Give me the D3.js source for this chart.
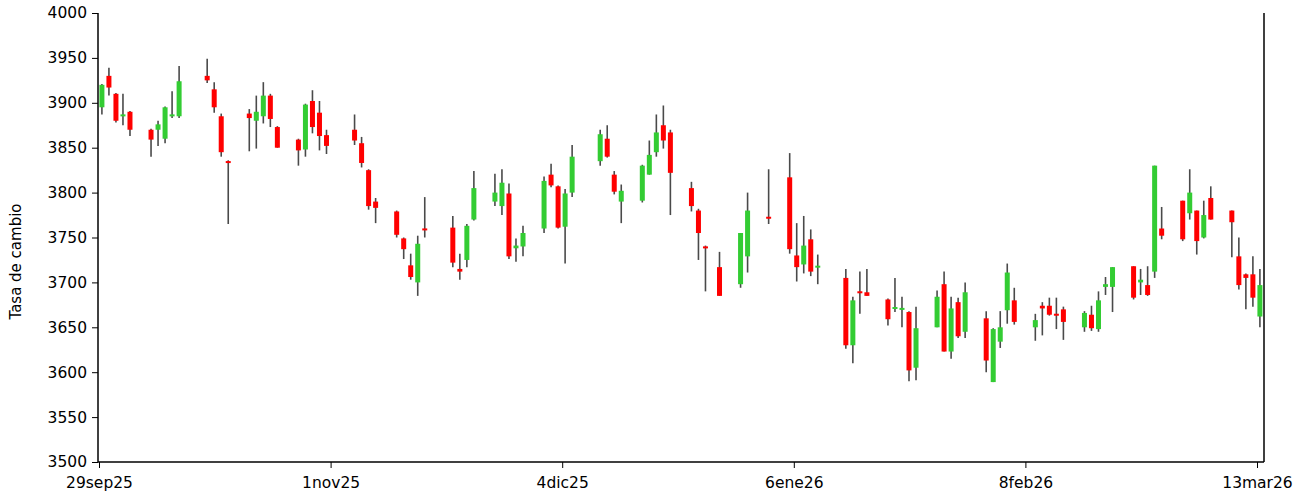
<!DOCTYPE html>
<html>
<head>
<meta charset="utf-8">
<script src="https://cdn.jsdelivr.net/npm/d3@7"></script>
<style>
html,body{margin:0;padding:0;background:#fff;}
svg{display:block;font-family:"DejaVu Sans",Verdana,sans-serif;}
</style>
</head>
<body>
<svg id="chart" width="1311" height="501"></svg>
<script>
const dates = ["2025-09-29","2025-09-30","2025-10-01","2025-10-02","2025-10-03","2025-10-06","2025-10-07","2025-10-08","2025-10-09","2025-10-10",
"2025-10-14","2025-10-15","2025-10-16","2025-10-17","2025-10-20","2025-10-21","2025-10-22","2025-10-23","2025-10-24","2025-10-27",
"2025-10-28","2025-10-29","2025-10-30","2025-10-31","2025-11-04","2025-11-05","2025-11-06","2025-11-07","2025-11-10","2025-11-11",
"2025-11-12","2025-11-13","2025-11-14","2025-11-18","2025-11-19","2025-11-20","2025-11-21","2025-11-24","2025-11-25","2025-11-26",
"2025-11-27","2025-11-28","2025-12-01","2025-12-02","2025-12-03","2025-12-04","2025-12-05","2025-12-09","2025-12-10","2025-12-11",
"2025-12-12","2025-12-15","2025-12-16","2025-12-17","2025-12-18","2025-12-19","2025-12-22","2025-12-23","2025-12-24","2025-12-26",
"2025-12-29","2025-12-30","2026-01-02","2026-01-05","2026-01-06","2026-01-07","2026-01-08","2026-01-09","2026-01-13","2026-01-14",
"2026-01-15","2026-01-16","2026-01-19","2026-01-20","2026-01-21","2026-01-22","2026-01-23","2026-01-26","2026-01-27","2026-01-28",
"2026-01-29","2026-01-30","2026-02-02","2026-02-03","2026-02-04","2026-02-05","2026-02-06","2026-02-09","2026-02-10","2026-02-11",
"2026-02-12","2026-02-13","2026-02-16","2026-02-17","2026-02-18","2026-02-19","2026-02-20","2026-02-23","2026-02-24","2026-02-25",
"2026-02-26","2026-02-27","2026-03-02","2026-03-03","2026-03-04","2026-03-05","2026-03-06","2026-03-09","2026-03-10","2026-03-11",
"2026-03-12","2026-03-13"];

const openV = [3895,3930,3910,3885,3890,3870,3870,3860,3885,3885,
3930,3915,3885,3835,3888,3880,3885,3908,3873,3859,
3848,3902,3889,3864,3870,3855,3825,3790,3779,3749,
3719,3700,3760,3761,3715,3725,3770,3790,3785,3799,
3738,3740,3760,3820,3807,3762,3800,3835,3860,3820,
3790,3791,3820,3845,3875,3867,3805,3780,3740,3717,
3698,3729,3773,3817,3730,3720,3748,3717,3705,3630,
3690,3689,3681,3671,3670,3667,3605,3650,3698,3623,
3678,3645,3660,3589,3634,3669,3680,3650,3674,3674,
3665,3670,3650,3664,3648,3695,3695,3718,3700,3697,
3712,3760,3791,3777,3780,3750,3794,3780,3729,3709,
3709,3662];

const highV = [3921,3939,3911,3910,3891,3871,3880,3896,3913,3941,
3949,3923,3888,3836,3893,3908,3923,3910,3874,3860,
3899,3914,3902,3870,3887,3862,3826,3794,3780,3750,
3732,3752,3795,3774,3732,3765,3824,3821,3826,3810,
3749,3763,3818,3832,3808,3804,3853,3870,3875,3824,
3809,3831,3858,3887,3897,3870,3812,3782,3741,3734,
3755,3800,3826,3844,3766,3774,3759,3731,3715,3684,
3712,3715,3682,3705,3684,3668,3673,3691,3712,3684,
3683,3700,3668,3649,3668,3721,3694,3665,3678,3683,
3683,3673,3668,3674,3690,3706,3717,3718,3715,3718,
3830,3784,3791,3826,3780,3791,3807,3780,3750,3710,
3729,3715];

const lowV = [3887,3908,3878,3875,3863,3840,3852,3855,3883,3883,
3922,3889,3840,3765,3846,3849,3877,3873,3850,3830,
3840,3866,3847,3843,3853,3828,3781,3766,3750,3726,
3703,3685,3750,3717,3703,3717,3769,3785,3775,3726,
3723,3729,3755,3806,3760,3721,3795,3830,3839,3798,
3766,3789,3820,3840,3849,3775,3779,3725,3690,3685,
3694,3711,3765,3732,3701,3710,3707,3698,3626,3610,
3665,3685,3652,3667,3650,3590,3591,3650,3623,3615,
3638,3638,3600,3589,3627,3654,3653,3635,3641,3663,
3648,3636,3645,3646,3645,3686,3667,3681,3686,3685,
3705,3748,3746,3770,3731,3749,3770,3728,3692,3670,
3673,3650];

const closeV = [3920,3917,3880,3887,3870,3859,3876,3895,3887,3924,
3925,3895,3845,3833,3883,3890,3908,3882,3850,3847,
3898,3873,3863,3852,3858,3833,3785,3783,3753,3737,
3706,3743,3758,3722,3712,3763,3805,3800,3811,3729,
3741,3755,3813,3808,3761,3799,3840,3865,3840,3801,
3802,3830,3842,3867,3858,3822,3785,3755,3738,3685,
3755,3780,3771,3737,3717,3741,3712,3718,3630,3680,
3688,3685,3659,3672,3671,3602,3649,3684,3623,3671,
3640,3689,3613,3648,3650,3711,3656,3658,3671,3664,
3663,3656,3666,3649,3680,3698,3717,3683,3703,3686,
3830,3752,3748,3800,3746,3775,3770,3767,3697,3705,
3683,3697];

const tickDates = ["2025-09-29","2025-11-01","2025-12-04","2026-01-06","2026-02-08","2026-03-13"];
const tickLabels = ["29sep25","1nov25","4dic25","6ene26","8feb26","13mar26"];
const yTicks = [3500,3550,3600,3650,3700,3750,3800,3850,3900,3950,4000];
const yTitle = "Tasa de cambio";

const parse = d3.utcParse("%Y-%m-%d");
const data = dates.map((d,i)=>({date:parse(d),o:openV[i],h:highV[i],l:lowV[i],c:closeV[i]}));

const svg = d3.select("#chart");
const axisLeftX = 98, axisRightX = 1264, yTop = 13, yBottom = 462;
const font = "DejaVu Sans, Verdana, sans-serif";

const x = d3.scaleUtc()
  .domain([parse("2025-09-29"), parse("2026-03-13")])
  .range([99, 1257]);
// candles sit at mid-day of their date
const cx = d => x(d3.utcHour.offset(d, 12)) - 0.6;
const y = d3.scaleLinear().domain([3500,4000]).range([yBottom, yTop]);

const green = "#33cc33", red = "#ff0000", wick = "#4a4a4a";
const bw = 5;

const g = svg.append("g");
g.selectAll("line.wick").data(data).enter().append("line")
  .attr("x1", d=>cx(d.date)).attr("x2", d=>cx(d.date))
  .attr("y1", d=>y(d.h)).attr("y2", d=>y(d.l))
  .attr("stroke", wick).attr("stroke-width", 1.6);

g.selectAll("rect.body").data(data).enter().append("rect")
  .attr("x", d=>cx(d.date)-bw/2)
  .attr("width", bw)
  .attr("y", d=>{const t=y(Math.max(d.o,d.c)), b=y(Math.min(d.o,d.c)); return (b-t<2)?(t+b)/2-1:t;})
  .attr("height", d=>Math.max(2, y(Math.min(d.o,d.c))-y(Math.max(d.o,d.c))))
  .attr("fill", d=>d.c>=d.o?green:red);

// Y axis
const yAxis = d3.axisLeft(y).tickValues(yTicks).tickSize(6).tickPadding(5).tickFormat(d3.format("d"));
const ya = svg.append("g").attr("transform",`translate(${axisLeftX},0)`).call(yAxis);
ya.select(".domain").attr("stroke","#000").attr("stroke-width",1.5).attr("d",`M0,${yTop}V${yBottom}`);
ya.selectAll(".tick line").attr("stroke","#000").attr("stroke-width",1);
ya.selectAll(".tick text").attr("font-size",15.5).attr("fill","#000").attr("font-family",font);

// X axis
const xAxis = d3.axisBottom(x).tickValues(tickDates.map(parse)).tickSize(6).tickPadding(9)
  .tickFormat((d,i)=>tickLabels[i]);
const xa = svg.append("g").attr("transform",`translate(0,${yBottom})`).call(xAxis);
xa.select(".domain").attr("stroke","#000").attr("stroke-width",1.5).attr("d",`M${axisLeftX},0H${axisRightX}`);
xa.selectAll(".tick line").attr("stroke","#000");
xa.selectAll(".tick text").attr("font-size",15.5).attr("fill","#000").attr("font-family",font);

// right frame
svg.append("line").attr("x1",axisRightX).attr("x2",axisRightX).attr("y1",yTop).attr("y2",yBottom)
  .attr("stroke","#000").attr("stroke-width",1.5);

// y title
svg.append("text").attr("transform",`translate(21,${(yTop+yBottom)/2+24}) rotate(-90)`)
  .attr("text-anchor","middle").attr("font-size",15).attr("fill","#000")
  .attr("font-family",font).text(yTitle);
</script>
</body>
</html>
